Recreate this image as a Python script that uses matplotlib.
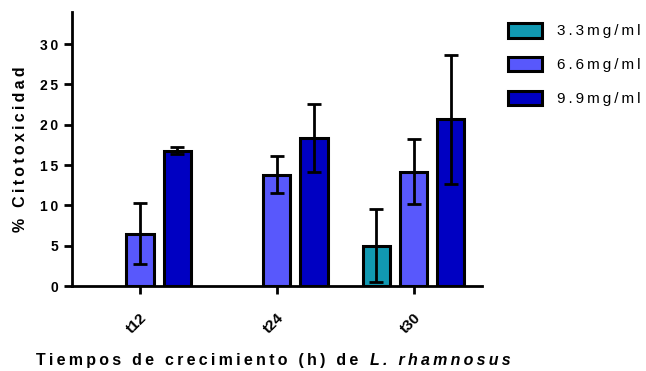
import matplotlib
matplotlib.use("Agg")
import matplotlib.pyplot as plt
import numpy as np

plt.rcParams['font.family'] = ['Liberation Sans', 'DejaVu Sans']

# mean % cytotoxicity and error per growth time
tiempos = ['t12', 't24', 't30']
series = ['3.3mg/ml', '6.6mg/ml', '9.9mg/ml']
media_33 = [np.nan, np.nan, 5.0]
err_33 = [np.nan, np.nan, 4.5]
media_66 = [6.5, 13.8, 14.2]
err_66 = [3.8, 2.3, 4.0]
media_99 = [16.8, 18.4, 20.7]
err_99 = [0.4, 4.2, 8.0]
colores = ['#1199b2', '#5858fc', '#0000c2']
y_ticks = [0, 5, 10, 15, 20, 25, 30]


def espaciado(s, sep='\u2009'):
    return sep.join(s)


fig = plt.figure(figsize=(6.46, 3.71), dpi=100)
ax = fig.add_axes([0.111, 0.229, 0.635, 0.739])

x = np.arange(len(tiempos))
ancho = 0.2
paso = 0.272
datos = [(media_33, err_33), (media_66, err_66), (media_99, err_99)]
for i, (m, e) in enumerate(datos):
    pos = x + (i - 1) * paso
    ax.bar(pos, m, width=ancho, color=colores[i], edgecolor='black',
           linewidth=2.2, label=espaciado(series[i]), zorder=2)
    ax.errorbar(pos, m, yerr=e, fmt='none', ecolor='black', elinewidth=2,
                capsize=5, capthick=2, zorder=3)

ax.set_xlim(-0.5, 2.5)
ax.set_ylim(0, 34)
ax.set_yticks(y_ticks)
ax.set_yticklabels([espaciado(str(v)) for v in y_ticks], fontsize=10,
                   fontweight='bold')
ax.set_xticks(x)
ax.set_xticklabels(tiempos, rotation=45, ha='right', rotation_mode='anchor',
                   fontsize=11, fontweight='bold')
for lado in ['top', 'right']:
    ax.spines[lado].set_visible(False)
for lado in ['left', 'bottom']:
    ax.spines[lado].set_linewidth(2)
ax.tick_params(width=2, length=6, direction='out')
ax.tick_params(axis='x', pad=12)

ax.set_ylabel(espaciado('% Citotoxicidad'), fontsize=11.5, fontweight='bold',
              labelpad=9)

fig.text(0.566, 0.016, espaciado('Tiempos de crecimiento (h) de '),
         ha='right', va='baseline', fontsize=11.5, fontweight='bold')
fig.text(0.573, 0.016, espaciado('L. rhamnosus'), ha='left', va='baseline',
         fontsize=11.5, fontweight='bold', style='italic')

leg = ax.legend(loc='upper left', bbox_to_anchor=(1.03, 1.01), frameon=False,
                fontsize=11, handlelength=2.2, handleheight=1.1,
                labelspacing=1.2, handletextpad=1.0)
for h in leg.legend_handles:
    h.set_linewidth(2.2)

fig.savefig('out.png', dpi=100)
